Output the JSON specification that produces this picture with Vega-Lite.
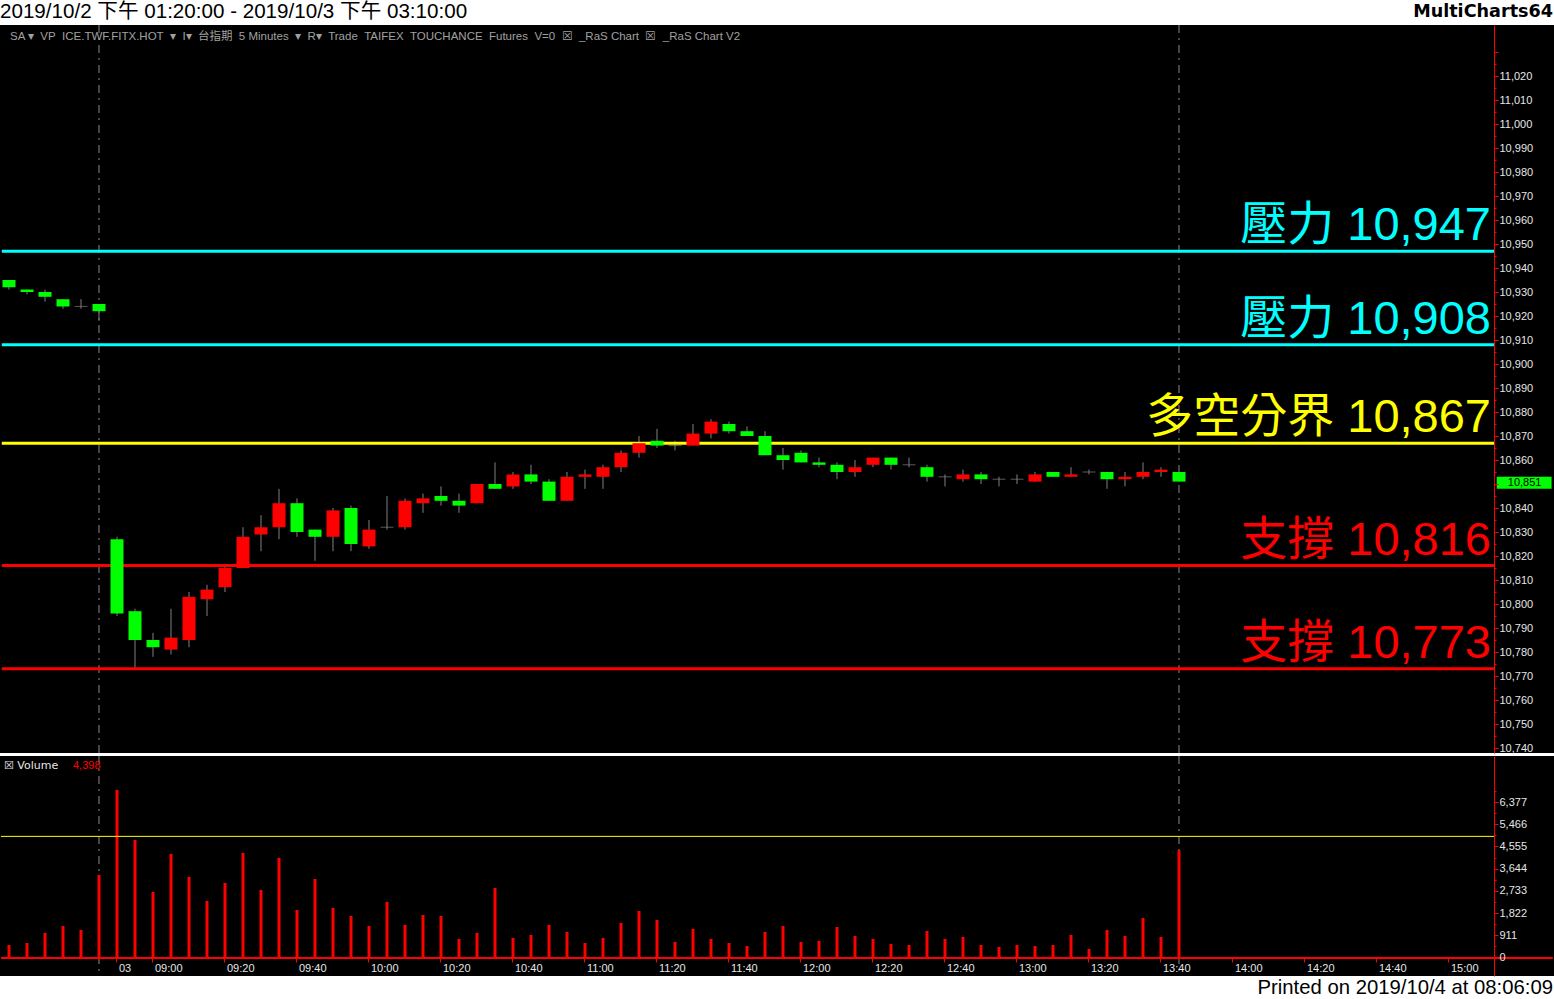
{
  "$schema": "https://vega.github.io/schema/vega-lite/v6.json",
  "padding": 0,
  "spacing": 3,
  "bounds": "flush",
  "background": "white",
  "config": {"view": {"stroke": null}},
  "datasets": {
    "bars": [
      {"time": "10/02 13:20", "open": 10935, "high": 10935, "low": 10931, "close": 10932, "volume": 513},
      {"time": "10/02 13:25", "open": 10931, "high": 10931, "low": 10929, "close": 10930, "volume": 595},
      {"time": "10/02 13:30", "open": 10930, "high": 10931, "low": 10926, "close": 10928, "volume": 1005},
      {"time": "10/02 13:35", "open": 10927, "high": 10927, "low": 10923, "close": 10924, "volume": 1293},
      {"time": "10/02 13:40", "open": 10924, "high": 10927, "low": 10923, "close": 10924, "volume": 1128},
      {"time": "10/02 13:45", "open": 10925, "high": 10925, "low": 10918, "close": 10922, "volume": 3385},
      {"time": "10/03 08:50", "open": 10827, "high": 10828, "low": 10795, "close": 10796, "volume": 6873},
      {"time": "10/03 08:55", "open": 10797, "high": 10798, "low": 10773, "close": 10785, "volume": 4821},
      {"time": "10/03 09:00", "open": 10785, "high": 10788, "low": 10778, "close": 10782, "volume": 2688},
      {"time": "10/03 09:05", "open": 10781, "high": 10798, "low": 10779, "close": 10786, "volume": 4247},
      {"time": "10/03 09:10", "open": 10785, "high": 10805, "low": 10782, "close": 10803, "volume": 3303},
      {"time": "10/03 09:15", "open": 10802, "high": 10808, "low": 10795, "close": 10806, "volume": 2318},
      {"time": "10/03 09:20", "open": 10807, "high": 10816, "low": 10805, "close": 10815, "volume": 3057},
      {"time": "10/03 09:25", "open": 10815, "high": 10832, "low": 10815, "close": 10828, "volume": 4288},
      {"time": "10/03 09:30", "open": 10829, "high": 10837, "low": 10822, "close": 10832, "volume": 2770},
      {"time": "10/03 09:35", "open": 10832, "high": 10848, "low": 10827, "close": 10842, "volume": 4083},
      {"time": "10/03 09:40", "open": 10842, "high": 10844, "low": 10828, "close": 10830, "volume": 1949},
      {"time": "10/03 09:45", "open": 10831, "high": 10831, "low": 10818, "close": 10828, "volume": 3221},
      {"time": "10/03 09:50", "open": 10828, "high": 10840, "low": 10822, "close": 10839, "volume": 2031},
      {"time": "10/03 09:55", "open": 10840, "high": 10841, "low": 10822, "close": 10825, "volume": 1703},
      {"time": "10/03 10:00", "open": 10824, "high": 10835, "low": 10823, "close": 10831, "volume": 1293},
      {"time": "10/03 10:05", "open": 10832, "high": 10845, "low": 10831, "close": 10832, "volume": 2277},
      {"time": "10/03 10:10", "open": 10832, "high": 10844, "low": 10831, "close": 10843, "volume": 1334},
      {"time": "10/03 10:15", "open": 10842, "high": 10846, "low": 10838, "close": 10844, "volume": 1744},
      {"time": "10/03 10:20", "open": 10845, "high": 10849, "low": 10841, "close": 10843, "volume": 1703},
      {"time": "10/03 10:25", "open": 10843, "high": 10846, "low": 10838, "close": 10841, "volume": 759},
      {"time": "10/03 10:30", "open": 10842, "high": 10850, "low": 10842, "close": 10850, "volume": 1005},
      {"time": "10/03 10:35", "open": 10850, "high": 10859, "low": 10848, "close": 10848, "volume": 2852},
      {"time": "10/03 10:40", "open": 10849, "high": 10855, "low": 10848, "close": 10854, "volume": 800},
      {"time": "10/03 10:45", "open": 10854, "high": 10858, "low": 10850, "close": 10851, "volume": 923},
      {"time": "10/03 10:50", "open": 10851, "high": 10852, "low": 10843, "close": 10843, "volume": 1334},
      {"time": "10/03 10:55", "open": 10843, "high": 10855, "low": 10843, "close": 10853, "volume": 1046},
      {"time": "10/03 11:00", "open": 10853, "high": 10856, "low": 10848, "close": 10854, "volume": 595},
      {"time": "10/03 11:05", "open": 10853, "high": 10858, "low": 10848, "close": 10857, "volume": 800},
      {"time": "10/03 11:10", "open": 10857, "high": 10864, "low": 10855, "close": 10863, "volume": 1416},
      {"time": "10/03 11:15", "open": 10863, "high": 10870, "low": 10861, "close": 10867, "volume": 1908},
      {"time": "10/03 11:20", "open": 10868, "high": 10873, "low": 10865, "close": 10866, "volume": 1539},
      {"time": "10/03 11:25", "open": 10866, "high": 10868, "low": 10864, "close": 10866, "volume": 636},
      {"time": "10/03 11:30", "open": 10866, "high": 10875, "low": 10866, "close": 10871, "volume": 1169},
      {"time": "10/03 11:35", "open": 10871, "high": 10877, "low": 10869, "close": 10876, "volume": 759},
      {"time": "10/03 11:40", "open": 10875, "high": 10876, "low": 10871, "close": 10872, "volume": 595},
      {"time": "10/03 11:45", "open": 10872, "high": 10874, "low": 10870, "close": 10870, "volume": 472},
      {"time": "10/03 11:50", "open": 10870, "high": 10872, "low": 10862, "close": 10862, "volume": 1046},
      {"time": "10/03 11:55", "open": 10862, "high": 10865, "low": 10856, "close": 10860, "volume": 1293},
      {"time": "10/03 12:00", "open": 10863, "high": 10864, "low": 10859, "close": 10859, "volume": 636},
      {"time": "10/03 12:05", "open": 10859, "high": 10861, "low": 10857, "close": 10858, "volume": 677},
      {"time": "10/03 12:10", "open": 10858, "high": 10859, "low": 10852, "close": 10855, "volume": 1252},
      {"time": "10/03 12:15", "open": 10855, "high": 10860, "low": 10853, "close": 10857, "volume": 882},
      {"time": "10/03 12:20", "open": 10858, "high": 10861, "low": 10857, "close": 10861, "volume": 759},
      {"time": "10/03 12:25", "open": 10861, "high": 10861, "low": 10856, "close": 10858, "volume": 554},
      {"time": "10/03 12:30", "open": 10858, "high": 10861, "low": 10857, "close": 10858, "volume": 513},
      {"time": "10/03 12:35", "open": 10857, "high": 10858, "low": 10851, "close": 10853, "volume": 1087},
      {"time": "10/03 12:40", "open": 10853, "high": 10854, "low": 10849, "close": 10853, "volume": 759},
      {"time": "10/03 12:45", "open": 10852, "high": 10856, "low": 10851, "close": 10854, "volume": 841},
      {"time": "10/03 12:50", "open": 10854, "high": 10855, "low": 10850, "close": 10852, "volume": 513},
      {"time": "10/03 12:55", "open": 10852, "high": 10853, "low": 10849, "close": 10852, "volume": 431},
      {"time": "10/03 13:00", "open": 10852, "high": 10854, "low": 10850, "close": 10852, "volume": 513},
      {"time": "10/03 13:05", "open": 10851, "high": 10855, "low": 10851, "close": 10854, "volume": 472},
      {"time": "10/03 13:10", "open": 10855, "high": 10855, "low": 10853, "close": 10853, "volume": 513},
      {"time": "10/03 13:15", "open": 10853, "high": 10857, "low": 10853, "close": 10854, "volume": 923},
      {"time": "10/03 13:20", "open": 10855, "high": 10856, "low": 10854, "close": 10855, "volume": 349},
      {"time": "10/03 13:25", "open": 10855, "high": 10855, "low": 10848, "close": 10852, "volume": 1128},
      {"time": "10/03 13:30", "open": 10852, "high": 10855, "low": 10849, "close": 10853, "volume": 882},
      {"time": "10/03 13:35", "open": 10853, "high": 10859, "low": 10852, "close": 10855, "volume": 1621},
      {"time": "10/03 13:40", "open": 10855, "high": 10857, "low": 10853, "close": 10856, "volume": 841},
      {"time": "10/03 13:45", "open": 10855, "high": 10855, "low": 10851, "close": 10851, "volume": 4398}
    ],
    "sessions": [{"time": "10/02 13:45"}, {"time": "10/03 13:45"}],
    "levels": [
      {"level": 10947, "kind": "壓力", "label": "壓力 10,947"},
      {"level": 10908, "kind": "壓力", "label": "壓力 10,908"},
      {"level": 10867, "kind": "多空分界", "label": "多空分界 10,867"},
      {"level": 10816, "kind": "支撐", "label": "支撐 10,816"},
      {"level": 10773, "kind": "支撐", "label": "支撐 10,773"}
    ]
  },
  "vconcat": [
    {
      "width": 1554,
      "height": 22,
      "view": {"fill": "white", "stroke": null},
      "data": {"values": [{"left": "2019/10/2 下午 01:20:00 - 2019/10/3 下午 03:10:00", "right": "MultiCharts64"}]},
      "layer": [
        {
          "mark": {"type": "text", "align": "left", "baseline": "middle", "dx": 0, "dy": 1, "font": "Liberation Sans, Noto Sans CJK TC", "fontSize": 20.6, "color": "#000000"},
          "encoding": {
            "x": {"datum": 0, "type": "quantitative", "scale": {"domain": [0, 1]}, "axis": null},
            "text": {"field": "left"}
          }
        },
        {
          "mark": {"type": "text", "align": "right", "baseline": "middle", "dx": -1, "dy": 1, "font": "DejaVu Sans", "fontWeight": "bold", "fontSize": 17.6, "color": "#000000"},
          "encoding": {
            "x": {"datum": 1, "type": "quantitative", "scale": {"domain": [0, 1]}, "axis": null},
            "text": {"field": "right"}
          }
        }
      ]
    },
    {
      "width": 1554,
      "height": 728,
      "view": {"fill": "#000000", "stroke": null},
      "encoding": {
        "x": {
          "field": "time", "type": "ordinal",
          "scale": {"type": "band", "paddingInner": 0, "paddingOuter": 0.16667, "align": 0, "round": false,
            "domain": ["10/02 13:20","10/02 13:25","10/02 13:30","10/02 13:35","10/02 13:40","10/02 13:45",
              "10/03 08:50","10/03 08:55","10/03 09:00","10/03 09:05","10/03 09:10","10/03 09:15","10/03 09:20","10/03 09:25","10/03 09:30","10/03 09:35","10/03 09:40","10/03 09:45","10/03 09:50","10/03 09:55",
              "10/03 10:00","10/03 10:05","10/03 10:10","10/03 10:15","10/03 10:20","10/03 10:25","10/03 10:30","10/03 10:35","10/03 10:40","10/03 10:45","10/03 10:50","10/03 10:55",
              "10/03 11:00","10/03 11:05","10/03 11:10","10/03 11:15","10/03 11:20","10/03 11:25","10/03 11:30","10/03 11:35","10/03 11:40","10/03 11:45","10/03 11:50","10/03 11:55",
              "10/03 12:00","10/03 12:05","10/03 12:10","10/03 12:15","10/03 12:20","10/03 12:25","10/03 12:30","10/03 12:35","10/03 12:40","10/03 12:45","10/03 12:50","10/03 12:55",
              "10/03 13:00","10/03 13:05","10/03 13:10","10/03 13:15","10/03 13:20","10/03 13:25","10/03 13:30","10/03 13:35","10/03 13:40","10/03 13:45","10/03 13:50","10/03 13:55",
              "10/03 14:00","10/03 14:05","10/03 14:10","10/03 14:15","10/03 14:20","10/03 14:25","10/03 14:30","10/03 14:35","10/03 14:40","10/03 14:45","10/03 14:50","10/03 14:55",
              "10/03 15:00","10/03 15:05","10/03 15:10","10/03 15:15","10/03 15:20","10/03 15:25"]},
          "axis": null
        }
      },
      "layer": [
        {
          "data": {"name": "sessions"},
          "mark": {"type": "rule", "color": "#8a8a8a", "strokeWidth": 1, "strokeDash": [8, 5, 2, 5]},
          "encoding": {}
        },
        {
          "data": {"name": "bars"},
          "mark": {"type": "rule", "color": "#808080", "strokeWidth": 1},
          "encoding": {
            "y": {"field": "low", "type": "quantitative", "scale": {"domain": [10737.92, 11041.25], "nice": false, "zero": false},
              "axis": {"orient": "right", "offset": -60, "grid": false, "title": null, "zindex": 1, "tickCount": 200,
                "values": [10740,10745,10750,10755,10760,10765,10770,10775,10780,10785,10790,10795,10800,10805,10810,10815,10820,10825,10830,10835,10840,10845,10850,10855,10860,10865,10870,10875,10880,10885,10890,10895,10900,10905,10910,10915,10920,10925,10930,10935,10940,10945,10950,10955,10960,10965,10970,10975,10980,10985,10990,10995,11000,11005,11010,11015,11020,11025,11030],
                "labelExpr": "datum.value % 10 == 0 && datum.value < 11030 && datum.value != 10850 ? format(datum.value, ',') : ''",
                "domainColor": "#ff0000", "domainWidth": 1, "tickColor": "#ff0000",
                "tickSize": {"condition": {"test": "datum.value % 10 == 0", "value": 4}, "value": 2},
                "labelColor": "#e6e6e6", "labelFont": "Liberation Sans", "labelFontSize": 11, "labelPadding": 1,
                "labelOverlap": false}},
            "y2": {"field": "high"}
          }
        },
        {
          "data": {"name": "levels"},
          "mark": {"type": "rule", "strokeWidth": 3},
          "encoding": {
            "x": {"datum": "10/02 13:20", "type": "ordinal", "bandPosition": 0.1},
            "x2": {"datum": "10/03 15:10", "bandPosition": 1},
            "y": {"field": "level", "type": "quantitative"},
            "color": {"field": "kind", "type": "nominal", "scale": {"domain": ["壓力", "多空分界", "支撐"], "range": ["#00ffff", "#ffff00", "#ff0000"]}, "legend": null}
          }
        },
        {
          "data": {"name": "bars"},
          "transform": [{"filter": "datum.open != datum.close"}],
          "mark": {"type": "bar", "size": 13},
          "encoding": {
            "y": {"field": "open", "type": "quantitative"},
            "y2": {"field": "close"},
            "color": {"condition": {"test": "datum.close > datum.open", "value": "#ff0000"}, "value": "#00ff00"}
          }
        },
        {
          "data": {"name": "bars"},
          "transform": [{"filter": "datum.open == datum.close"}],
          "mark": {"type": "tick", "color": "#808080", "size": 13, "thickness": 1, "orient": "horizontal"},
          "encoding": {
            "y": {"field": "close", "type": "quantitative"}
          }
        },
        {
          "data": {"name": "levels"},
          "mark": {"type": "text", "align": "right", "baseline": "alphabetic", "dx": -3, "dy": -11, "font": "Liberation Sans, Noto Sans CJK TC", "fontSize": 47},
          "encoding": {
            "x": {"datum": "10/03 15:10", "type": "ordinal", "bandPosition": 1},
            "y": {"field": "level", "type": "quantitative"},
            "text": {"field": "label"},
            "color": {"field": "kind", "type": "nominal", "scale": {"domain": ["壓力", "多空分界", "支撐"], "range": ["#00ffff", "#ffff00", "#ff0000"]}, "legend": null}
          }
        },
        {
          "data": {"values": [{"s": "SA ▾\u00a0\u00a0VP\u00a0\u00a0ICE.TWF.FITX.HOT\u00a0\u00a0▾\u00a0\u00a0I▾\u00a0\u00a0台指期\u00a0\u00a05 Minutes\u00a0\u00a0▾\u00a0\u00a0R▾\u00a0\u00a0Trade\u00a0\u00a0TAIFEX\u00a0\u00a0TOUCHANCE\u00a0\u00a0Futures\u00a0\u00a0V=0\u00a0\u00a0☒\u00a0\u00a0_RaS Chart\u00a0\u00a0☒\u00a0\u00a0_RaS Chart V2"}]},
          "mark": {"type": "text", "align": "left", "baseline": "middle", "dx": 10, "font": "Liberation Sans, Noto Sans CJK TC", "fontSize": 11.5, "color": "#a0a0a0"},
          "encoding": {
            "x": {"datum": "10/02 13:20", "type": "ordinal", "bandPosition": 0},
            "y": {"datum": 11036.1, "type": "quantitative"},
            "text": {"field": "s"}
          }
        },
        {
          "data": {"values": [{"price": 10851}]},
          "mark": {"type": "rect", "color": "#00ff00"},
          "encoding": {
            "x": {"datum": "10/03 15:15", "type": "ordinal", "bandPosition": 0.15},
            "x2": {"datum": "10/03 15:25", "bandPosition": 1.2},
            "y": {"datum": 10853, "type": "quantitative"},
            "y2": {"datum": 10848}
          }
        },
        {
          "data": {"values": [{"price": 10851}]},
          "mark": {"type": "text", "align": "center", "baseline": "middle", "dy": 1, "font": "Liberation Sans", "fontSize": 11, "color": "#000000"},
          "encoding": {
            "x": {"datum": "10/03 15:20", "type": "ordinal", "bandPosition": 0.7},
            "y": {"field": "price", "type": "quantitative"},
            "text": {"field": "price", "type": "quantitative", "format": ","}
          }
        }
      ]
    },
    {
      "width": 1554,
      "height": 220,
      "view": {"fill": "#000000", "stroke": null},
      "encoding": {
        "x": {
          "field": "time", "type": "ordinal",
          "scale": {"type": "band", "paddingInner": 0, "paddingOuter": 0.16667, "align": 0, "round": false,
            "domain": ["10/02 13:20","10/02 13:25","10/02 13:30","10/02 13:35","10/02 13:40","10/02 13:45",
              "10/03 08:50","10/03 08:55","10/03 09:00","10/03 09:05","10/03 09:10","10/03 09:15","10/03 09:20","10/03 09:25","10/03 09:30","10/03 09:35","10/03 09:40","10/03 09:45","10/03 09:50","10/03 09:55",
              "10/03 10:00","10/03 10:05","10/03 10:10","10/03 10:15","10/03 10:20","10/03 10:25","10/03 10:30","10/03 10:35","10/03 10:40","10/03 10:45","10/03 10:50","10/03 10:55",
              "10/03 11:00","10/03 11:05","10/03 11:10","10/03 11:15","10/03 11:20","10/03 11:25","10/03 11:30","10/03 11:35","10/03 11:40","10/03 11:45","10/03 11:50","10/03 11:55",
              "10/03 12:00","10/03 12:05","10/03 12:10","10/03 12:15","10/03 12:20","10/03 12:25","10/03 12:30","10/03 12:35","10/03 12:40","10/03 12:45","10/03 12:50","10/03 12:55",
              "10/03 13:00","10/03 13:05","10/03 13:10","10/03 13:15","10/03 13:20","10/03 13:25","10/03 13:30","10/03 13:35","10/03 13:40","10/03 13:45","10/03 13:50","10/03 13:55",
              "10/03 14:00","10/03 14:05","10/03 14:10","10/03 14:15","10/03 14:20","10/03 14:25","10/03 14:30","10/03 14:35","10/03 14:40","10/03 14:45","10/03 14:50","10/03 14:55",
              "10/03 15:00","10/03 15:05","10/03 15:10","10/03 15:15","10/03 15:20","10/03 15:25"]},
          "axis": {"orient": "bottom", "offset": -18, "grid": false, "title": null, "bandPosition": 0.5, "zindex": 1, "domain": false,
            "values": ["10/03 08:50","10/03 09:00","10/03 09:20","10/03 09:40","10/03 10:00","10/03 10:20","10/03 10:40","10/03 11:00","10/03 11:20","10/03 11:40","10/03 12:00","10/03 12:20","10/03 12:40","10/03 13:00","10/03 13:20","10/03 13:40","10/03 14:00","10/03 14:20","10/03 14:40","10/03 15:00"],
            "labelExpr": "datum.value == '10/03 08:50' ? '03' : slice(datum.value, 6)",
            "tickColor": "#ff0000", "tickSize": 4,
            "labelAlign": "left", "labelOffset": 2, "labelPadding": 0, "labelAngle": 0,
            "labelColor": "#e6e6e6", "labelFont": "Liberation Sans", "labelFontSize": 11,
            "labelOverlap": false}
        }
      },
      "layer": [
        {
          "data": {"name": "sessions"},
          "mark": {"type": "rule", "color": "#8a8a8a", "strokeWidth": 1, "strokeDash": [8, 5, 2, 5]},
          "encoding": {}
        },
        {
          "data": {"name": "bars"},
          "mark": {"type": "bar", "size": 3, "color": "#ff0000"},
          "encoding": {
            "y": {"field": "volume", "type": "quantitative", "scale": {"domain": [-759, 8268], "nice": false, "zero": false},
              "axis": {"orient": "right", "offset": -60, "grid": false, "title": null, "zindex": 1, "tickCount": 200,
                "values": [0, 455.5, 911, 1366.5, 1822, 2277.5, 2733, 3188.5, 3644, 4099.5, 4555, 5010.5, 5466, 5921.5, 6377, 6832.5],
                "labelExpr": "datum.value % 911 == 0 ? format(datum.value, ',') : ''",
                "domainColor": "#ff0000", "domainWidth": 1, "tickColor": "#ff0000",
                "tickSize": {"condition": {"test": "datum.value % 911 == 0", "value": 4}, "value": 2},
                "labelColor": "#e6e6e6", "labelFont": "Liberation Sans", "labelFontSize": 11, "labelPadding": 1,
                "labelOverlap": false}},
            "y2": {"datum": 0}
          }
        },
        {
          "data": {"values": [{"v": 4970}]},
          "mark": {"type": "rule", "color": "#ffff00", "strokeWidth": 1},
          "encoding": {
            "x": {"datum": "10/02 13:20", "type": "ordinal", "bandPosition": 0.05},
            "x2": {"datum": "10/03 15:10", "bandPosition": 1},
            "y": {"field": "v", "type": "quantitative"}
          }
        },
        {
          "data": {"values": [{"v": -20}]},
          "mark": {"type": "rule", "color": "#ff0000", "strokeWidth": 2},
          "encoding": {
            "x": {"datum": "10/02 13:20", "type": "ordinal", "bandPosition": 0.06},
            "x2": {"datum": "10/03 15:25", "bandPosition": 1.27},
            "y": {"field": "v", "type": "quantitative"}
          }
        },
        {
          "data": {"values": [{"name": "☒  Volume", "last": 4398}]},
          "mark": {"type": "text", "align": "left", "baseline": "middle", "dx": 4, "font": "DejaVu Sans, Liberation Sans", "fontSize": 11, "color": "#e6e6e6"},
          "encoding": {
            "x": {"datum": "10/02 13:20", "type": "ordinal", "bandPosition": 0},
            "y": {"datum": 7858, "type": "quantitative"},
            "text": {"field": "name"}
          }
        },
        {
          "data": {"values": [{"name": "Volume", "last": 4398}]},
          "mark": {"type": "text", "align": "left", "baseline": "middle", "dx": 73, "font": "Liberation Sans", "fontSize": 11, "color": "#ff0000"},
          "encoding": {
            "x": {"datum": "10/02 13:20", "type": "ordinal", "bandPosition": 0},
            "y": {"datum": 7858, "type": "quantitative"},
            "text": {"field": "last", "type": "quantitative", "format": ","}
          }
        }
      ]
    },
    {
      "width": 1554,
      "height": 20,
      "view": {"fill": "white", "stroke": null},
      "data": {"values": [{"t": "Printed on 2019/10/4 at 08:06:09"}]},
      "mark": {"type": "text", "align": "right", "baseline": "middle", "dx": -1, "dy": -1.5, "font": "Liberation Sans", "fontSize": 20.3, "color": "#000000"},
      "encoding": {
        "x": {"datum": 1, "type": "quantitative", "scale": {"domain": [0, 1]}, "axis": null},
        "text": {"field": "t"}
      }
    }
  ]
}
